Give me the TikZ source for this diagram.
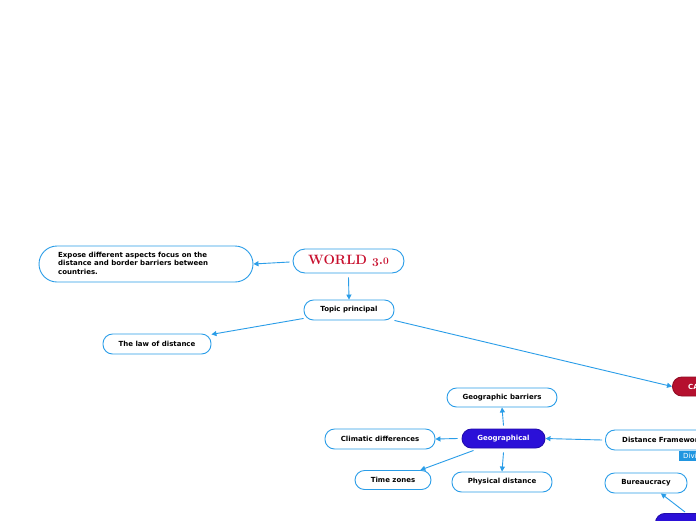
\documentclass[tikz,border=0pt]{standalone}
\usepackage{fontspec}
\setsansfont{DejaVu Sans}
\usetikzlibrary{arrows.meta}
\definecolor{edgeblue}{HTML}{2A9DE8}
\definecolor{deepblue}{HTML}{2B10D8}
\definecolor{cagered}{HTML}{B5102E}
\definecolor{labelblue}{HTML}{2196E0}
\definecolor{titlered}{HTML}{C8102E}
\tikzset{
  topic/.style={draw=edgeblue, line width=0.9pt, rounded corners=9.5pt, fill=white,
    font=\sffamily\bfseries\fontsize{7}{8}\selectfont, text=black,
    minimum height=20pt, inner sep=0pt},
  filled/.style={topic, fill=#1, draw=#1!80!black, text=white},
  conn/.style={draw=edgeblue, line width=0.9pt, -{Triangle[width=5pt,length=5pt]}},
}
\begin{document}
\begin{tikzpicture}[x=1pt,y=-1pt]
\clip (0,0) rectangle (696,520);
\fill[white] (0,0) rectangle (696,520);
% nodes
\node[topic, rounded corners=18pt, minimum width=214pt, minimum height=36pt] (expose) at (146,264) {};
\node[font=\sffamily\bfseries\fontsize{7}{8.4}\selectfont, align=left, anchor=north west, inner sep=0pt] (exposetext) at (58,252)
  {Expose different aspects focus on the\\distance and border barriers between\\countries.};
\node[topic, rounded corners=12pt, minimum width=111pt, minimum height=24pt,
  font=\rmfamily\bfseries\fontsize{13.5}{15}\selectfont, text=titlered] (world) at (348.5,261)
  {WORLD \raisebox{-2.6pt}{\fontsize{12}{13}\selectfont 3}.\scalebox{0.75}{0}};
\node[topic, minimum width=90pt] (topicp) at (349,310) {Topic principal};
\node[topic, minimum width=108pt] (law) at (157,344) {The law of distance};
\node[filled=cagered, minimum width=80pt, minimum height=19pt, anchor=west] (cage) at (672,386.5) {};
\node[font=\sffamily\bfseries\fontsize{7}{8}\selectfont, text=white, anchor=west, inner sep=0pt] (cagetext) at (688,386.5) {CAGE};
\node[topic, minimum width=110pt, minimum height=19pt] (geobar) at (502,397.5) {Geographic barriers};
\node[topic, minimum width=110pt] (climatic) at (380,439) {Climatic differences};
\node[filled=deepblue, minimum width=83pt, minimum height=19pt] (geo) at (503.5,438.5) {Geographical};
\node[topic, minimum width=130pt, anchor=west] (dist) at (605,440) {};
\node[font=\sffamily\bfseries\fontsize{7}{8}\selectfont, anchor=west, inner sep=0pt] (disttext) at (622,440) {Distance Framework};
\node[fill=labelblue, minimum width=40pt, minimum height=10pt, anchor=north west, inner sep=0pt] (divi) at (679,450.5) {};
\node[font=\sffamily\fontsize{7}{8}\selectfont, text=white, anchor=west, inner sep=0pt] (divitext) at (683,455.5) {Division};
\node[topic, minimum width=76pt, minimum height=19pt] (time) at (393,480) {Time zones};
\node[topic, minimum width=100pt] (phys) at (502,482) {Physical distance};
\node[topic, minimum width=82pt] (bureau) at (646,483) {Bureaucracy};
\node[filled=deepblue, minimum width=80pt, minimum height=20pt, anchor=north west] (admin) at (655,513) {};
% connectors
\draw[conn] (world.west) ++(-3,1) coordinate (w1) -- (expose.east);
\draw[conn] (world.south) ++(0,4) coordinate (w2) -- (topicp.north);
\draw[conn] (topicp.south west) ++(0,-2) coordinate (t1) -- (law.10);
\draw[conn] (topicp.south east) coordinate (t2) -- (cage.west);
\draw[conn] (geo.north) ++(0,-3) coordinate (g1) -- (geobar.south);
\draw[conn] (geo.west) ++(-4,0) coordinate (g2) -- (climatic.east);
\draw[conn] (geo.south west) ++(12,2) coordinate (g3) -- (time.20);
\draw[conn] (geo.south) ++(0,4) coordinate (g4) -- (phys.north);
\draw[conn] (dist.west) ++(-3,0) coordinate (d1) -- (geo.east);
\draw[conn] (admin.north west) ++(30,-1) coordinate (a1) -- (bureau.-35);
\end{tikzpicture}
\end{document}
